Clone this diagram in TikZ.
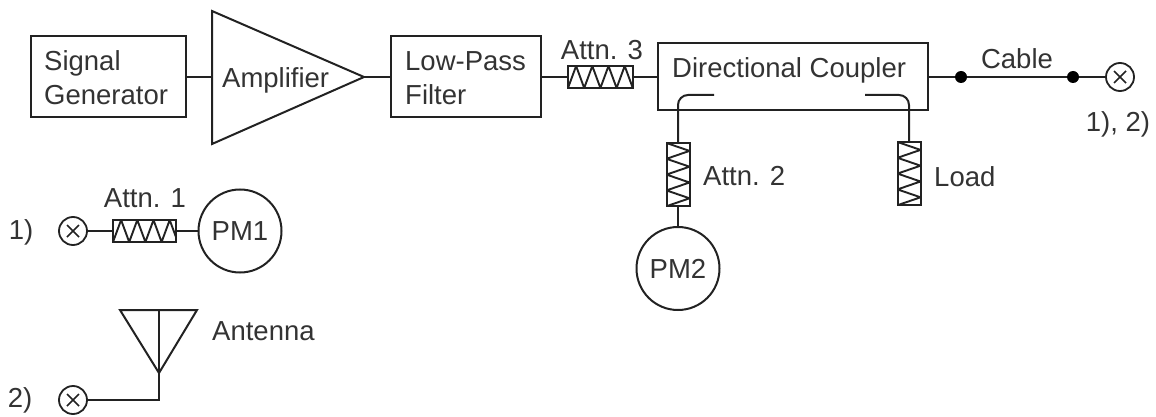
\documentclass[tikz,border=0pt]{standalone}
\usepackage{fontspec}
\setmainfont{Liberation Sans}
\definecolor{ink}{HTML}{222222}
\definecolor{txt}{HTML}{333333}
\tikzset{
  wire/.style={draw=ink,line width=2pt,line join=miter},
  lbl/.style={text=txt,font=\fontsize{27.5}{32}\selectfont,inner sep=0pt},
  lblleft/.style={lbl,anchor=west,align=left},
  blockbox/.style={draw=ink,line width=2pt,inner sep=0pt},
  meter/.style={circle,draw=ink,line width=2pt,minimum size=83pt,inner sep=0pt,text=txt,font=\fontsize{27.5}{32}\selectfont},
  dotnode/.style={circle,fill=black,minimum size=12pt,inner sep=0pt},
  attnh/.style={blockbox,minimum width=65pt,minimum height=22pt,
    path picture={\draw[ink,line width=1.9pt]
      (path picture bounding box.south west)
      \foreach \k in {1,...,4}{ -- ++(8.1pt,22pt) -- ++(8.1pt,-22pt)};}},
  attnv/.style={blockbox,minimum width=23pt,minimum height=63pt,
    path picture={\draw[ink,line width=1.9pt]
      (path picture bounding box.north west)
      \foreach \k in {1,...,4}{ -- ++(23pt,-7.9pt) -- ++(-23pt,-7.9pt)};}},
  port/.style={circle,draw=ink,line width=1.8pt,minimum size=28pt,inner sep=0pt,
    path picture={\draw[ink,line width=1.6pt]
      ([xshift=-6pt,yshift=-6pt]path picture bounding box.center) -- ++(12pt,12pt)
      ([xshift=-6pt,yshift=6pt]path picture bounding box.center) -- ++(12pt,-12pt);}},
}
\begin{document}
\begin{tikzpicture}[x=1pt,y=-1pt]
\useasboundingbox (0,0) rectangle (1156,417);
% main chain
\node[blockbox,minimum width=155pt,minimum height=81pt] (sig) at (108.5,77) {};
\node[lblleft] (sigt) at (44,78) {Signal\\[2pt]Generator};
\coordinate (ampa) at (212,11);
\coordinate (ampb) at (212,144);
\coordinate (ampc) at (364,77);
\coordinate (ampin) at (212,77);
\draw[wire] (ampa) -- (ampc) -- (ampb) -- cycle;
\node[lblleft] (ampt) at (222,80) {Amplifier};
\node[blockbox,minimum width=150pt,minimum height=81pt] (lpf) at (466,77) {};
\node[lblleft] (lpft) at (405,78) {Low-Pass\\[2pt]Filter};
\node[attnh] (att3) at (600.5,77) {};
\node[lbl] (att3t) at (602,50) {Attn. 3};
\node[blockbox,minimum width=270pt,minimum height=67pt] (dc) at (793,77) {};
\node[lblleft] (dct) at (672,70) {Directional Coupler};
\node[attnv] (att2) at (678,174.5) {};
\node[lblleft] (att2t) at (703,176) {Attn. 2};
\node[attnv] (load) at (909,173.5) {};
\node[lblleft] (loadt) at (934,177) {Load};
\node[meter] (pm2) at (678,268.5) {PM2};
\node[dotnode] (d1) at (961,77) {};
\node[dotnode] (d2) at (1073,77) {};
\node[lbl] (cablet) at (1017,59) {Cable};
\node[port] (p0) at (1120,77) {};
\node[lbl] (p0t) at (1118,124) {1), 2)};
\draw[wire] (sig.east) -- (ampin);
\draw[wire] (ampc) -- (lpf.west);
\draw[wire] (lpf.east) -- (att3.west);
\draw[wire] (att3.east) -- (dc.west);
\draw[wire] (dc.east) -- (d1);
\draw[wire,line width=2.6pt] (d1) -- (d2);
\draw[wire] (d2) -- (p0.west);
\coordinate (cl) at (714,95);
\coordinate (cr) at (865,95);
\draw[wire,rounded corners=10pt] (cl) -| (att2.north);
\draw[wire,rounded corners=10pt] (cr) -| (load.north);
\draw[wire] (att2.south) -- (pm2.north);
% variant 1
\node[lbl] (v1) at (21,232) {1)};
\node[port] (p1) at (73,231) {};
\node[attnh,minimum width=63pt] (att1) at (144.5,231) {};
\node[lbl] (att1t) at (145,198) {Attn. 1};
\node[meter] (pm1) at (240,231) {PM1};
\draw[wire] (p1.east) -- (att1.west);
\draw[wire] (att1.east) -- (pm1.west);
% variant 2
\node[lbl] (v2) at (20,400) {2)};
\node[port] (p2) at (73,400) {};
\coordinate (anta) at (120,310);
\coordinate (antb) at (197,310);
\coordinate (antc) at (159,373);
\coordinate (antt) at (159,310);
\coordinate (antf) at (159,400);
\draw[wire] (anta) -- (antb) -- (antc) -- cycle;
\draw[wire] (antt) -- (antf) -- (p2.east);
\node[lblleft] (antn) at (212,331) {Antenna};
\end{tikzpicture}
\end{document}
